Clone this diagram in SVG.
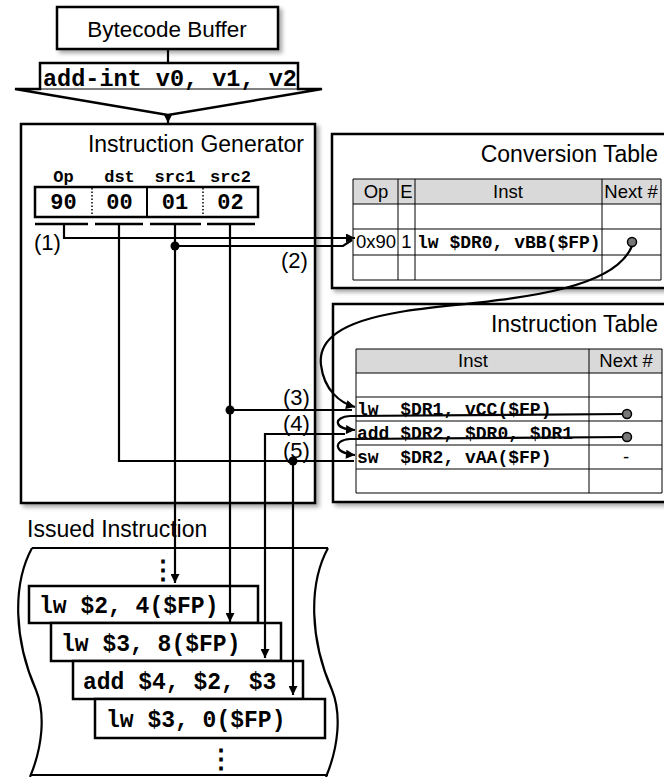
<svg xmlns="http://www.w3.org/2000/svg" width="664" height="777" viewBox="0 0 664 777">
<defs>
<style>
.box{fill:#fff;stroke:#000;stroke-width:2.5}
.sh{filter:url(#shadow)}
.t{font-family:"Liberation Sans",Arial,sans-serif;fill:#000}
.m{font-family:"Liberation Mono","Courier New",monospace;font-weight:bold;fill:#000;white-space:pre}
.ln{fill:none;stroke:#000;stroke-width:2.2}
.tl{fill:none;stroke:#000;stroke-width:1}
.hd{fill:#d9d9d9}
.dot{fill:#000}
.gdot{fill:#777;stroke:#000;stroke-width:1.5}
.ul{stroke:#000;stroke-width:2.5}
</style>
<filter id="shadow" x="-10%" y="-10%" width="130%" height="130%">
<feDropShadow dx="3" dy="3" stdDeviation="2" flood-color="#000" flood-opacity="0.35"/>
</filter>
<marker id="ah" viewBox="0 0 10 10" refX="10" refY="5" markerWidth="10" markerHeight="9" markerUnits="userSpaceOnUse" orient="auto">
<path d="M0,0 L10,5 L0,10 z" fill="#000"/>
</marker>
</defs>

<g id="bytecode-buffer">
<rect class="box sh" x="57" y="7" width="221" height="42"/>
<text class="t" x="167" y="37" font-size="22.5" text-anchor="middle">Bytecode Buffer</text>
</g>

<g id="bytecode-instruction">
<path class="box" d="M40,63 H298 V89 H322 L168,115 L15,89 H40 Z"/>
<line class="tl" x1="40" y1="89" x2="298" y2="89" stroke-width="2"/>
<text class="m" x="43" y="86" font-size="23.5">add-int v0, v1, v2</text>
</g>

<g id="instruction-generator">
<rect class="box sh" x="21" y="124" width="294" height="379"/>
<text class="t" x="304" y="152" font-size="23" text-anchor="end">Instruction Generator</text>
<g class="m" font-size="17" text-anchor="middle">
<text x="63.5" y="182">Op</text>
<text x="119.5" y="182">dst</text>
<text x="175" y="182">src1</text>
<text x="230.5" y="182">src2</text>
</g>
<rect x="35" y="187" width="223" height="30" fill="#fff" stroke="#000" stroke-width="2.5"/>
<line x1="92" y1="188" x2="92" y2="216" stroke="#000" stroke-width="1.5" stroke-dasharray="1.5,2"/>
<line x1="147" y1="188" x2="147" y2="216" stroke="#000" stroke-width="2"/>
<line x1="203" y1="188" x2="203" y2="216" stroke="#000" stroke-width="1.5" stroke-dasharray="1.5,2"/>
<g class="m" font-size="22" text-anchor="middle">
<text x="63.5" y="209">90</text>
<text x="119.5" y="209">00</text>
<text x="175" y="209">01</text>
<text x="230.5" y="209">02</text>
</g>
<line class="ul" x1="35" y1="224" x2="88" y2="224"/>
<line class="ul" x1="95" y1="224" x2="143" y2="224"/>
<line class="ul" x1="150" y1="224" x2="201" y2="224"/>
<line class="ul" x1="207" y1="224" x2="255" y2="224"/>
</g>

<g id="conversion-table">
<rect class="box sh" x="332" y="134" width="368" height="154"/>
<text class="t" x="658" y="162" font-size="23" text-anchor="end">Conversion Table</text>
<rect class="hd" x="353" y="179" width="308" height="25"/>
<path class="tl" d="M353,179 H661 M353,204 H661 M353,229 H661 M353,255 H661 M353,280 H661 M353,179 V280 M398,179 V280 M415,179 V280 M602,179 V280 M661,179 V280"/>
<g class="t" font-size="18.5" text-anchor="middle">
<text x="376" y="198">Op</text>
<text x="406.5" y="198">E</text>
<text x="508" y="198">Inst</text>
<text x="631" y="198">Next #</text>
<text x="376" y="248">0x90</text>
<text x="406.5" y="248">1</text>
</g>
<text class="m" x="417" y="248" font-size="18">lw $DR0, vBB($FP)</text>
</g>

<g id="instruction-table">
<rect class="box sh" x="333" y="304" width="367" height="198"/>
<text class="t" x="658" y="332" font-size="23" text-anchor="end">Instruction Table</text>
<rect class="hd" x="356" y="349" width="306" height="24"/>
<path class="tl" d="M356,349 H662 M356,373 H662 M356,397 H662 M356,421 H662 M356,445 H662 M356,469 H662 M356,493 H662 M356,349 V493 M589,349 V493 M662,349 V493"/>
<g class="t" font-size="18.5" text-anchor="middle">
<text x="473" y="367">Inst</text>
<text x="626" y="367">Next #</text>
<text x="626" y="463">-</text>
</g>
<g class="m" font-size="18" xml:space="preserve">
<text x="357" y="415" xml:space="preserve">lw  $DR1, vCC($FP)</text>
<text x="357" y="439">add $DR2, $DR0, $DR1</text>
<text x="357" y="463" xml:space="preserve">sw  $DR2, vAA($FP)</text>
</g>
</g>

<g id="issued-instruction">
<text class="t" x="27" y="537" font-size="23">Issued Instruction</text>
<path class="ln" stroke-width="2" d="M32,548 H328 M32,548 C12,585 14,640 36,690 C46,715 42,748 30,777 M328,548 C308,585 310,640 332,690 C342,715 338,748 326,777 M30,775 H328"/>
<rect class="box" x="29" y="586" width="229" height="37"/>
<rect class="box" x="51" y="623" width="230" height="38"/>
<rect class="box" x="73" y="661" width="230" height="38"/>
<rect class="box" x="95" y="699" width="230" height="39"/>
<g class="m" font-size="23">
<text x="39" y="613">lw $2, 4($FP)</text>
<text x="61" y="651">lw $3, 8($FP)</text>
<text x="83" y="689">add $4, $2, $3</text>
<text x="106" y="727">lw $3, 0($FP)</text>
</g>
<g font-family="'DejaVu Sans Mono',monospace" font-weight="bold" font-size="26" text-anchor="middle">
<text x="163" y="579">⋮</text>
<text x="221" y="768">⋮</text>
</g>
</g>

<g id="connectors">
<line class="ln" x1="168" y1="49" x2="168" y2="63"/>
<line class="ln" x1="168" y1="115" x2="168" y2="123" marker-end="url(#ah)"/>
<path class="ln" d="M64,224 V238 H355" marker-end="url(#ah)"/>
<path class="ln" d="M175,246 H343 L352,240"/>
<path class="ln" d="M119,224 V461 H354"/>
<path class="ln" d="M175,224 V583" marker-end="url(#ah)"/>
<path class="ln" d="M230,224 V622" marker-end="url(#ah)"/>
<path class="ln" d="M230,410 H352"/>
<path class="ln" d="M345,434 H265 V658" marker-end="url(#ah)"/>
<path class="ln" d="M293,461 V695" marker-end="url(#ah)"/>
<path class="ln" d="M632,246 C610,300 470,300 400,312 C340,322 318,340 321,365 C324,390 340,403 355,407" marker-end="url(#ah)"/>
<path class="ln" d="M627,414 L350,416 C333,417 333,429 355,430" marker-end="url(#ah)"/>
<path class="ln" d="M627,437 L350,439 C333,440 333,453 355,455" marker-end="url(#ah)"/>
<circle class="dot" cx="175" cy="246" r="4.5"/>
<circle class="dot" cx="230" cy="410" r="4.5"/>
<circle class="dot" cx="293" cy="461" r="4.5"/>
<circle class="gdot" cx="632" cy="242" r="4.5"/>
<circle class="gdot" cx="627" cy="414" r="4.5"/>
<circle class="gdot" cx="627" cy="437" r="4.5"/>
<g class="t" font-size="22">
<text x="34" y="250">(1)</text>
<text x="281" y="268">(2)</text>
<text x="283" y="405">(3)</text>
<text x="283" y="431">(4)</text>
<text x="283" y="458">(5)</text>
</g>
</g>
</svg>
